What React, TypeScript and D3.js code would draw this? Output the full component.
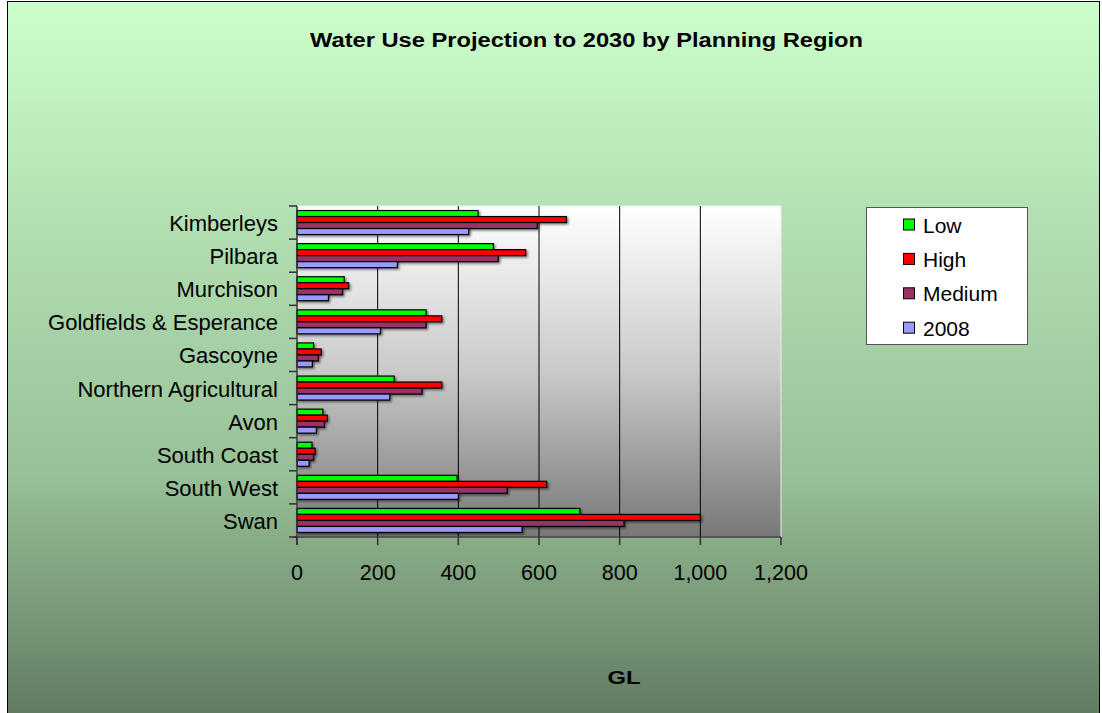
import React from "react";
import * as d3 from "d3";

// Planning regions, listed top to bottom as drawn
const regions = [
  "Kimberleys",
  "Pilbara",
  "Murchison",
  "Goldfields & Esperance",
  "Gascoyne",
  "Northern Agricultural",
  "Avon",
  "South Coast",
  "South West",
  "Swan",
];

// Water use (GL) per region for each scenario
const lowValues = [449, 487, 117, 320, 41, 241, 64, 37, 397, 701];
const highValues = [668, 567, 128, 359, 60, 359, 75, 45, 619, 1000];
const mediumValues = [596, 499, 113, 320, 53, 310, 68, 41, 521, 811];
const values2008 = [426, 249, 78, 207, 38, 230, 48, 30, 400, 558];

const seriesNames = ["Low", "High", "Medium", "2008"];
const seriesColors = ["#00ff00", "#ff0000", "#993366", "#9999ff"];
const xTicks = [0, 200, 400, 600, 800, 1000, 1200];

const W = 1102;
const H = 713;
const FONT = "'Liberation Sans', Arial, sans-serif";

const plot = { left: 297, right: 781, top: 206, bottom: 537 };

export default function App() {
  const series = [lowValues, highValues, mediumValues, values2008];

  const x = d3.scaleLinear().domain([0, 1200]).range([plot.left, plot.right]);
  const y = d3.scaleBand<string>().domain(regions).range([plot.top, plot.bottom]).padding(0);
  const groupH = y.bandwidth() * 0.725;
  const inner = d3
    .scaleBand<string>()
    .domain(seriesNames)
    .range([(y.bandwidth() - groupH) / 2, (y.bandwidth() + groupH) / 2])
    .padding(0);

  const fmt = d3.format(",");
  const legendTop = 207;
  const legendStep = 34.4;

  return (
    <div style={{ position: "absolute", left: 0, top: 0 }}>
      <svg width={W} height={H} style={{ display: "block" }}>
        <defs>
          <linearGradient id="chartBg" x1="0" y1="0" x2="0" y2="1">
            <stop offset="0" stopColor="#ccffcc" />
            <stop offset="0.28" stopColor="#b4e2b4" />
            <stop offset="0.66" stopColor="#98c098" />
            <stop offset="0.74" stopColor="#8aae88" />
            <stop offset="0.84" stopColor="#7a9a7b" />
            <stop offset="1" stopColor="#617a60" />
          </linearGradient>
          <linearGradient id="plotBg" x1="0" y1="0" x2="0" y2="1">
            <stop offset="0" stopColor="#ffffff" />
            <stop offset="0.5" stopColor="#c9c9c9" />
            <stop offset="1" stopColor="#777777" />
          </linearGradient>
          <filter id="barShadow" x="-10%" y="-50%" width="130%" height="250%">
            <feDropShadow dx="1.5" dy="1.5" stdDeviation="0.8" floodColor="#000" floodOpacity="0.5" />
          </filter>
        </defs>

        {/* chart area */}
        <rect x={0} y={0} width={W} height={H} fill="#ffffff" />
        <rect x={7.5} y={1.5} width={1092} height={H + 5} fill="url(#chartBg)" stroke="#000" strokeWidth={1} />

        {/* title */}
        <text
          x={310}
          y={46.5}
          fontFamily={FONT}
          fontWeight="bold"
          fontSize={20}
          textLength={553}
          lengthAdjust="spacingAndGlyphs"
          fill="#000"
        >
          Water Use Projection to 2030 by Planning Region
        </text>

        {/* plot area */}
        <rect
          x={plot.left}
          y={plot.top}
          width={plot.right - plot.left}
          height={plot.bottom - plot.top}
          fill="url(#plotBg)"
          stroke="#eeeeee"
          strokeWidth={1}
        />

        {/* vertical gridlines */}
        {xTicks
          .filter((t) => t > 0 && t < 1200)
          .map((t) => (
            <line key={"g" + t} x1={x(t)} x2={x(t)} y1={plot.top} y2={plot.bottom} stroke="#000" strokeWidth={1} />
          ))}

        {/* bars */}
        {regions.map((r, i) => (
          <g key={r} transform={`translate(0,${y(r)})`}>
            {series.map((vals, s) => (
              <rect
                key={seriesNames[s]}
                x={x(0)}
                y={inner(seriesNames[s])}
                width={x(vals[i]) - x(0)}
                height={inner.bandwidth()}
                fill={seriesColors[s]}
                stroke="#000"
                strokeWidth={1.2}
                filter="url(#barShadow)"
              />
            ))}
          </g>
        ))}

        {/* category axis */}
        <line x1={plot.left} x2={plot.left} y1={plot.top} y2={plot.bottom + 8} stroke="#333" strokeWidth={1.5} />
        {[...regions.map((r) => y(r) as number), plot.bottom].map((v, i) => (
          <line key={"yt" + i} x1={plot.left - 8} x2={plot.left} y1={v} y2={v} stroke="#333" strokeWidth={1.5} />
        ))}
        {regions.map((r) => (
          <text
            key={"yl" + r}
            x={278}
            y={(y(r) as number) + y.bandwidth() / 2 + 1}
            textAnchor="end"
            dominantBaseline="central"
            fontFamily={FONT}
            fontSize={22}
            fill="#000"
          >
            {r}
          </text>
        ))}

        {/* value axis */}
        <line x1={plot.left - 4} x2={plot.right} y1={plot.bottom} y2={plot.bottom} stroke="#333" strokeWidth={1.5} />
        {xTicks.map((t) => (
          <g key={"xt" + t}>
            <line x1={x(t)} x2={x(t)} y1={plot.bottom} y2={plot.bottom + 8} stroke="#333" strokeWidth={1.5} />
            <text x={x(t)} y={580} textAnchor="middle" fontFamily={FONT} fontSize={21.5} fill="#000">
              {fmt(t)}
            </text>
          </g>
        ))}
        <text
          x={624}
          y={684}
          textAnchor="middle"
          fontFamily={FONT}
          fontWeight="bold"
          fontSize={19}
          textLength={33}
          lengthAdjust="spacingAndGlyphs"
          fill="#000"
        >
          GL
        </text>

        {/* legend */}
        <rect x={866.5} y={legendTop + 0.5} width={161} height={137} fill="#ffffff" stroke="#555" strokeWidth={1} />
        {seriesNames.map((name, s) => {
          const cy = legendTop + 18 + s * legendStep;
          return (
            <g key={"lg" + name}>
              <rect x={903.5} y={cy - 6} width={11} height={11} fill={seriesColors[s]} stroke="#000" strokeWidth={1} />
              <text x={923} y={cy} dominantBaseline="central" fontFamily={FONT} fontSize={21} fill="#000">
                {name}
              </text>
            </g>
          );
        })}
      </svg>
    </div>
  );
}
